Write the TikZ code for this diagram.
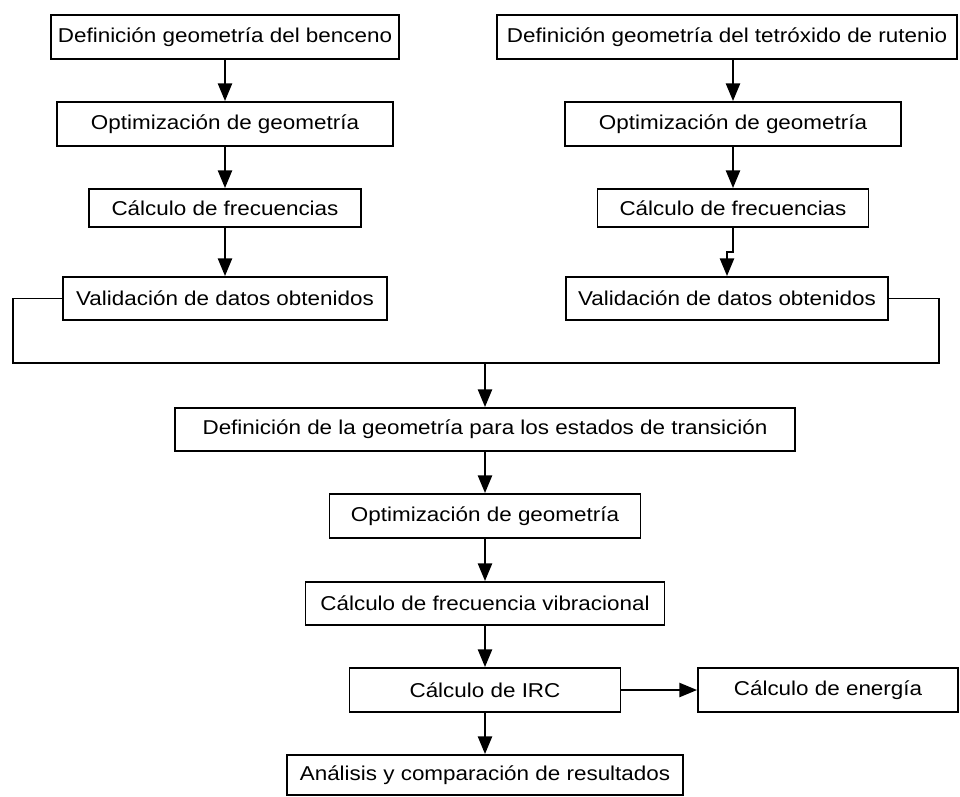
\documentclass[tikz,border=0pt]{standalone}
\usepackage{fontspec}
\setmainfont{Liberation Sans}[FakeStretch=1.12]
\usetikzlibrary{arrows.meta}

\tikzset{
  caja/.style 2 args={draw, line width=1.1pt, inner sep=0pt,
    minimum width=#1*0.02cm, minimum height=#2*0.02cm,
    font=\fontsize{11.4}{13}\selectfont},
  flecha/.style={-{Triangle[length=10pt,width=8pt]}, line width=1.1pt},
  linea/.style={line width=1.1pt}
}

\begin{document}
\begin{tikzpicture}[x=0.02cm, y=-0.02cm]
  \useasboundingbox (0,0) rectangle (960,796);
  % columna del benceno
  \node[caja={348}{44}] (a1) at (225,37)    {Definición geometría del benceno};
  \node[caja={336}{44}] (a2) at (225,124)   {Optimización de geometría};
  \node[caja={272}{38}] (a3) at (225,208)   {Cálculo de frecuencias};
  \node[caja={324}{43}] (a4) at (225,298.5) {Validación de datos obtenidos};
  % columna del tetroxido
  \node[caja={460}{44}] (b1) at (727,37)    {Definición geometría del tetróxido de rutenio};
  \node[caja={336}{44}] (b2) at (733,124)   {Optimización de geometría};
  \node[caja={271}{38}] (b3) at (733,208)   {Cálculo de frecuencias};
  \node[caja={322}{43}] (b4) at (727,298.5) {Validación de datos obtenidos};
  % estados de transicion
  \node[caja={620}{43}] (c1) at (485,429.5) {Definición de la geometría para los estados de transición};
  \node[caja={311}{44}] (c2) at (485,516)   {Optimización de geometría};
  \node[caja={359}{43}] (c3) at (485,603.5) {Cálculo de frecuencia vibracional};
  \node[caja={271}{44}] (c4) at (485,690)   {Cálculo de IRC};
  \node[caja={260}{44}] (e)  at (828,690)   {Cálculo de energía};
  \node[caja={396}{40}] (c5) at (485,775)   {Análisis y comparación de resultados};

  \coordinate (izq)   at (13,363);
  \coordinate (der)   at (939,363);
  \coordinate (union) at (485,363);
  \coordinate (quiebre) at (733,252);

  \path[flecha]
  (a1) edge (a2)
  (a2) edge (a3)
  (a3) edge (a4)
  (b2) edge (b3)
  (c1) edge (c2)
  (c2) edge (c3)
  (c3) edge (c4)
  (c4) edge (c5)
  (c4) edge (e)
  ;
  \draw[flecha] (b2.north |- b1.south) -- (b2.north);
  \draw[flecha] (b3.south) -- (quiebre) -| (b4.north);
  \draw[linea] (a4.west) -| (izq) -- (der) |- (b4.east);
  \draw[flecha] (union) -- (c1.north);
\end{tikzpicture}
\end{document}
